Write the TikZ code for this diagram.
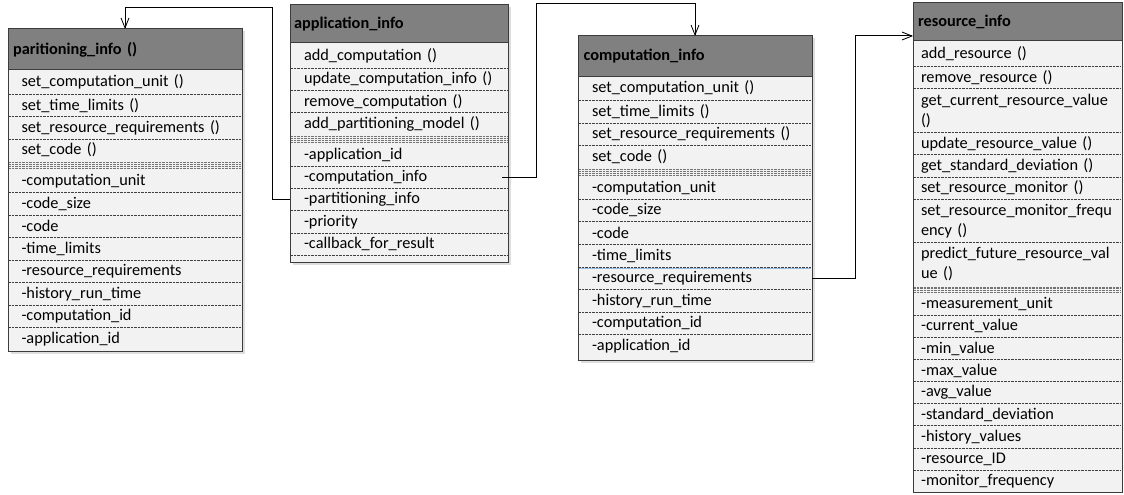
\documentclass[tikz,border=0pt]{standalone}
\usepackage{fontspec}
\setmainfont{Carlito}
\usetikzlibrary{positioning,arrows.meta,backgrounds,calc}
\definecolor{hdrgray}{RGB}{128,128,128}
\definecolor{bodygray}{RGB}{242,242,242}
\definecolor{bordercol}{RGB}{60,60,60}
\definecolor{selblue}{RGB}{150,185,225}
\begin{document}
\begin{tikzpicture}[x=1pt,y=-1pt,
  every node/.style={outer sep=0pt},
  txt/.style={font=\fontsize{16.3}{20}\selectfont},
  hdr/.style={txt, draw=bordercol, line width=1pt, fill=hdrgray, anchor=north west,
              inner ysep=0pt, align=left, font=\fontsize{16.3}{20}\selectfont\bfseries},
  border/.style={draw=bordercol, line width=1pt},
  shadowfill/.style={fill=black!13},
  sepline/.style={draw=black!75, line width=0.8pt, dash pattern=on 0.7pt off 0.7pt,
                  shorten <=1pt, shorten >=1pt},
  bandline/.style={draw=black!55, line width=0.7pt, dash pattern=on 0.7pt off 0.7pt,
                  shorten <=1pt, shorten >=1pt},
  conn/.style={draw=black, line width=1pt,
               -{Straight Barb[length=10pt,width=8pt,line width=0.8pt]}},
  prow/.style={txt, text width=207pt, inner xsep=13.5pt, inner ysep=0pt, align=left},
  arow/.style={txt, text width=190pt, inner xsep=14pt, inner ysep=0pt, align=left},
  crow/.style={txt, text width=206pt, inner xsep=14pt, inner ysep=0pt, align=left},
  rrow/.style={txt, text width=193pt, inner xsep=8pt, inner ysep=0pt, align=left}
]
\useasboundingbox (0,0) rectangle (1124,495);

%% ---------------- paritioning_info ----------------
\node[hdr, minimum height=41pt, text width=224pt, inner xsep=5pt] (ph) at (8,29) {paritioning\_info~()};
\node[prow, minimum height=24.5pt, below=0pt of ph]  (pm1) {set\_computation\_unit~()};
\node[prow, minimum height=22.2pt, below=0pt of pm1] (pm2) {set\_time\_limits~()};
\node[prow, minimum height=22.2pt, below=0pt of pm2] (pm3) {set\_resource\_requirements~()};
\node[prow, minimum height=22.2pt, below=0pt of pm3] (pm4) {set\_code~()};
\node[prow, minimum height=9pt,    below=0pt of pm4] (pband) {};
\node[prow, minimum height=22.5pt, below=0pt of pband] (pa1) {-computation\_unit};
\node[prow, minimum height=22.5pt, below=0pt of pa1] (pa2) {-code\_size};
\node[prow, minimum height=22.5pt, below=0pt of pa2] (pa3) {-code};
\node[prow, minimum height=22.5pt, below=0pt of pa3] (pa4) {-time\_limits};
\node[prow, minimum height=22.5pt, below=0pt of pa4] (pa5) {-resource\_requirements};
\node[prow, minimum height=22.5pt, below=0pt of pa5] (pa6) {-history\_run\_time};
\node[prow, minimum height=22.5pt, below=0pt of pa6] (pa7) {-computation\_id};
\node[prow, minimum height=22.5pt, below=0pt of pa7] (pa8) {-application\_id};
\coordinate (pend) at ($(pa8.south east)+(0,1)$);
\begin{scope}[on background layer]
  \fill[shadowfill] ($(ph.north west)+(2.5,2.5)$) rectangle ($(pend)+(2.5,2.5)$);
  \fill[bodygray] (ph.south west) rectangle (pend);
\end{scope}
\foreach \n in {pm1,pm2,pm3,pa1,pa2,pa3,pa4,pa5,pa6,pa7}
  \draw[sepline] (\n.south west) -- (\n.south east);
\foreach \d in {1.5,3.5,5.5,7.5}
  \draw[bandline] ($(pband.north west)+(0,\d)$) -- ($(pband.north east)+(0,\d)$);
\draw[border] (ph.north west) rectangle (pend);

%% ---------------- application_info ----------------
\node[hdr, minimum height=38pt, text width=210pt, inner xsep=4pt] (ah) at (290,5) {application\_info};
\node[arow, minimum height=25pt,   below=0pt of ah]  (am1) {add\_computation~()};
\node[arow, minimum height=22.3pt, below=0pt of am1] (am2) {update\_computation\_info~()};
\node[arow, minimum height=22.3pt, below=0pt of am2] (am3) {remove\_computation~()};
\node[arow, minimum height=22.3pt, below=0pt of am3] (am4) {add\_partitioning\_model~()};
\node[arow, minimum height=9pt,    below=0pt of am4] (aband) {};
\node[arow, minimum height=22.3pt, below=0pt of aband] (aa1) {-application\_id};
\node[arow, minimum height=22.3pt, below=0pt of aa1] (aa2) {-computation\_info};
\node[arow, minimum height=22.3pt, below=0pt of aa2] (aa3) {-partitioning\_info};
\node[arow, minimum height=22.3pt, below=0pt of aa3] (aa4) {-priority};
\node[arow, minimum height=22.3pt, below=0pt of aa4] (aa5) {-callback\_for\_result};
\coordinate (aend) at ($(aa5.south east)+(0,6.6)$);
\begin{scope}[on background layer]
  \fill[shadowfill] ($(ah.north west)+(2.5,2.5)$) rectangle ($(aend)+(2.5,2.5)$);
  \fill[bodygray] (ah.south west) rectangle (aend);
\end{scope}
\foreach \n in {am1,am2,am3,aa1,aa2,aa3,aa4,aa5}
  \draw[sepline] (\n.south west) -- (\n.south east);
\foreach \d in {1.5,3.5,5.5,7.5}
  \draw[bandline] ($(aband.north west)+(0,\d)$) -- ($(aband.north east)+(0,\d)$);
\draw[border] (ah.north west) rectangle (aend);

%% ---------------- computation_info ----------------
\node[hdr, minimum height=40pt, text width=223pt, inner xsep=5.5pt] (ch) at (578,36) {computation\_info};
\node[crow, minimum height=24.5pt, below=0pt of ch]  (cm1) {set\_computation\_unit~()};
\node[crow, minimum height=22.5pt, below=0pt of cm1] (cm2) {set\_time\_limits~()};
\node[crow, minimum height=22.5pt, below=0pt of cm2] (cm3) {set\_resource\_requirements~()};
\node[crow, minimum height=22.5pt, below=0pt of cm3] (cm4) {set\_code~()};
\node[crow, minimum height=8.5pt,  below=0pt of cm4] (cband) {};
\node[crow, minimum height=22.6pt, below=0pt of cband] (ca1) {-computation\_unit};
\node[crow, minimum height=22.6pt, below=0pt of ca1] (ca2) {-code\_size};
\node[crow, minimum height=22.6pt, below=0pt of ca2] (ca3) {-code};
\node[crow, minimum height=22.6pt, below=0pt of ca3] (ca4) {-time\_limits};
\node[crow, minimum height=22.6pt, below=0pt of ca4] (ca5) {-resource\_requirements};
\node[crow, minimum height=22.6pt, below=0pt of ca5] (ca6) {-history\_run\_time};
\node[crow, minimum height=22.6pt, below=0pt of ca6] (ca7) {-computation\_id};
\node[crow, minimum height=22.6pt, below=0pt of ca7] (ca8) {-application\_id};
\coordinate (cend) at ($(ca8.south east)+(0,2.7)$);
\begin{scope}[on background layer]
  \fill[shadowfill] ($(ch.north west)+(2.5,2.5)$) rectangle ($(cend)+(2.5,2.5)$);
  \fill[bodygray] (ch.south west) rectangle (cend);
\end{scope}
\foreach \n in {cm1,cm2,cm3,ca1,ca2,ca3,ca4,ca5,ca6,ca7}
  \draw[sepline] (\n.south west) -- (\n.south east);
\draw[draw=selblue, line width=0.8pt, shorten <=1pt, shorten >=1pt]
  ($(ca4.south west)+(0,1.3)$) -- ($(ca4.south east)+(0,1.3)$);
\foreach \d in {1.5,3.5,5.5,7.5}
  \draw[bandline] ($(cband.north west)+(0,\d)$) -- ($(cband.north east)+(0,\d)$);
\draw[border] (ch.north west) rectangle (cend);

%% ---------------- resource_info ----------------
\node[hdr, minimum height=38pt, text width=199pt, inner xsep=5pt] (rh) at (913,3) {resource\_info};
\node[rrow, minimum height=25.5pt, below=0pt of rh]  (rm1) {add\_resource~()};
\node[rrow, minimum height=22.3pt, below=0pt of rm1] (rm2) {remove\_resource~()};
\node[rrow, minimum height=43.5pt, below=0pt of rm2] (rm3) {get\_current\_resource\_value\\()};
\node[rrow, minimum height=22.3pt, below=0pt of rm3] (rm4) {update\_resource\_value~()};
\node[rrow, minimum height=22.3pt, below=0pt of rm4] (rm5) {get\_standard\_deviation~()};
\node[rrow, minimum height=22.3pt, below=0pt of rm5] (rm6) {set\_resource\_monitor~()};
\node[rrow, minimum height=43.5pt, below=0pt of rm6] (rm7) {set\_resource\_monitor\_frequ\\ency~()};
\node[rrow, minimum height=43.5pt, below=0pt of rm7] (rm8) {predict\_future\_resource\_val\\ue~()};
\node[rrow, minimum height=7pt,    below=0pt of rm8] (rband) {};
\node[rrow, minimum height=22.1pt, below=0pt of rband] (ra1) {-measurement\_unit};
\node[rrow, minimum height=22.1pt, below=0pt of ra1] (ra2) {-current\_value};
\node[rrow, minimum height=22.1pt, below=0pt of ra2] (ra3) {-min\_value};
\node[rrow, minimum height=22.1pt, below=0pt of ra3] (ra4) {-max\_value};
\node[rrow, minimum height=22.1pt, below=0pt of ra4] (ra5) {-avg\_value};
\node[rrow, minimum height=22.1pt, below=0pt of ra5] (ra6) {-standard\_deviation};
\node[rrow, minimum height=22.1pt, below=0pt of ra6] (ra7) {-history\_values};
\node[rrow, minimum height=22.1pt, below=0pt of ra7] (ra8) {-resource\_ID};
\node[rrow, minimum height=22.1pt, below=0pt of ra8] (ra9) {-monitor\_frequency};
\coordinate (rend) at (ra9.south east);
\begin{scope}[on background layer]
  \fill[bodygray] (rh.south west) rectangle (rend);
\end{scope}
\foreach \n in {rm1,rm2,rm3,rm4,rm5,rm6,rm7,ra1,ra2,ra3,ra4,ra5,ra6,ra7,ra8}
  \draw[sepline] (\n.south west) -- (\n.south east);
\foreach \d in {0.8,2.6,4.4,6.2}
  \draw[bandline] ($(rband.north west)+(0,\d)$) -- ($(rband.north east)+(0,\d)$);
\draw[border] (rh.north west) rectangle (rend);

%% ---------------- connectors ----------------
\draw[conn] (aa3.west) -- ++(-18,0) |- ($(ph.north)+(0,-21.5)$) -- (ph.north);
\draw[conn] ($(aa2.east)+(-6,0)$) -- ($(aa2.east)+(28,0)$) |- ($(ch.north)+(0,-32.7)$) -- (ch.north);
\draw[conn] (ca5.east) -- ++(43,0) |- ($(rh.south west)+(0,-5)$);
\end{tikzpicture}
\end{document}
